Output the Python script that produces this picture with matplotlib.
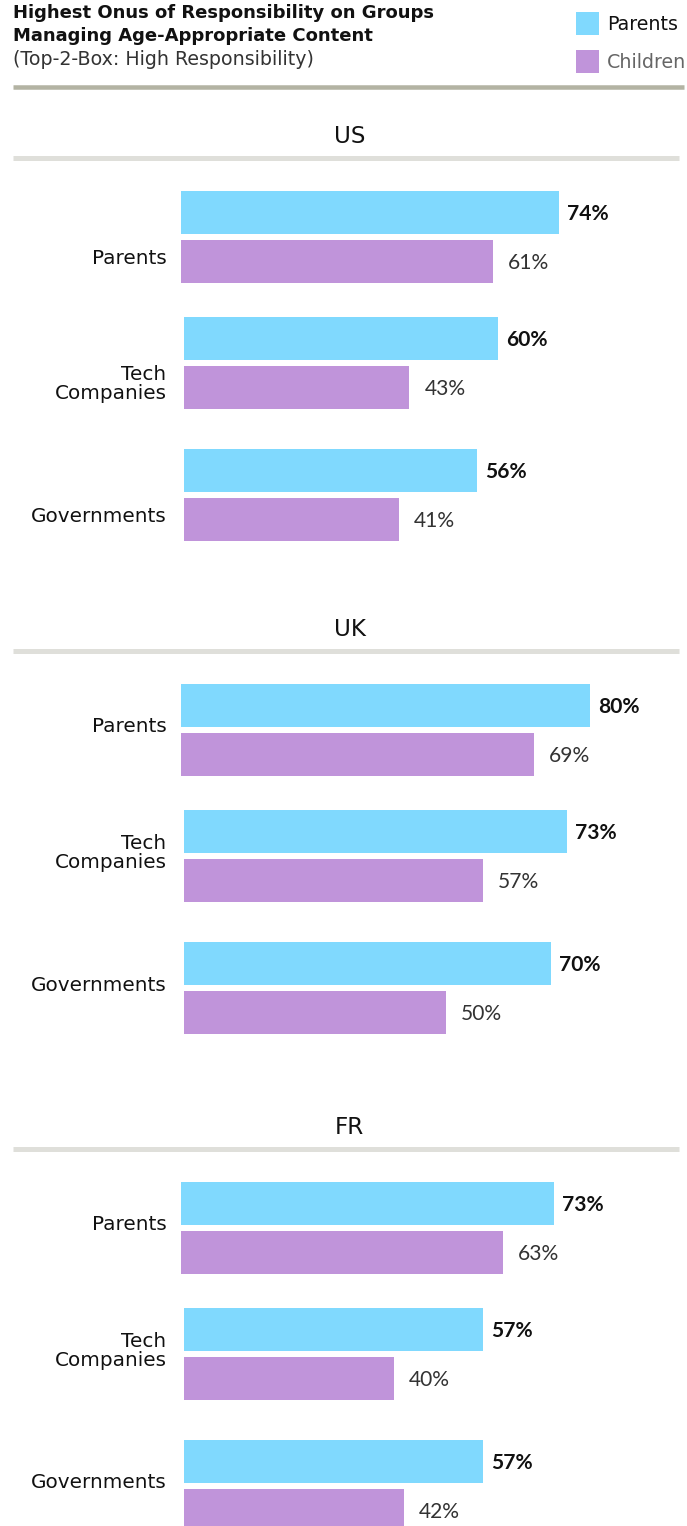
import matplotlib
matplotlib.use("Agg")
import matplotlib.pyplot as plt
from matplotlib.lines import Line2D

# ---------------- data ----------------
title_lines = ["Highest Onus of Responsibility on Groups",
               "Managing Age-Appropriate Content"]
subtitle = "(Top-2-Box: High Responsibility)"
series_names = ["Parents", "Children"]
countries = ["US", "UK", "FR"]
categories = ["Parents", "Tech\nCompanies", "Governments"]

us_parents = [74, 60, 56]
us_children = [61, 43, 41]
uk_parents = [80, 73, 70]
uk_children = [69, 57, 50]
fr_parents = [73, 57, 57]
fr_children = [63, 40, 42]

parents_by_country = [us_parents, uk_parents, fr_parents]
children_by_country = [us_children, uk_children, fr_children]

# ---------------- style / layout ----------------
W, H = 687, 1526
DPI = 72
BLUE = "#80D9FE"
PURPLE = "#C094DA"
TOP_RULE = "#B3B3A3"
PANEL_RULE = "#DFDFDA"

panel_rule_y = [157.5, 650.5, 1148.5]
row_offsets = [33.5, 159.5, 291.5]
label_shift = [24, 0, 0]
row_left = [181, 184, 184]
row_scale = [5.11, 5.24, 5.24]
BAR_PX = 43
PITCH_PX = 49

fig = plt.figure(figsize=(W / DPI, H / DPI), dpi=DPI)
fig.patch.set_facecolor("white")


def fx(px):
    return px / W


def fy(py):
    return 1 - py / H


# title block
fig.text(fx(13), fy(18), title_lines[0], fontsize=18, fontweight="bold",
         color="#111111", va="baseline", ha="left")
fig.text(fx(13), fy(41), title_lines[1], fontsize=18, fontweight="bold",
         color="#111111", va="baseline", ha="left")
fig.text(fx(13), fy(65), subtitle, fontsize=19,
         color="#333333", va="baseline", ha="left")

# legend
for i, (name, col, tcol) in enumerate(zip(series_names, [BLUE, PURPLE],
                                          ["#111111", "#666666"])):
    top = 12 + i * 38
    fig.patches.append(matplotlib.patches.Rectangle(
        (fx(576), fy(top + 23)), 23 / W, 23 / H, transform=fig.transFigure,
        facecolor=col, edgecolor="none"))
    fig.text(fx(607), fy(top + 18.5), name, fontsize=19, color=tcol,
             va="baseline", ha="left")

# top rule
fig.add_artist(Line2D([fx(13), fx(684)], [fy(87), fy(87)], color=TOP_RULE,
                      linewidth=4.5, solid_capstyle="butt"))

for p, country in enumerate(countries):
    ly = panel_rule_y[p]
    fig.text(fx(349.5), fy(ly - 14.5), country, fontsize=23, color="#111111",
             ha="center", va="baseline")
    fig.add_artist(Line2D([fx(13), fx(679)], [fy(ly), fy(ly)],
                          color=PANEL_RULE, linewidth=5,
                          solid_capstyle="butt"))
    pv = parents_by_country[p]
    cv = children_by_country[p]
    for r, cat in enumerate(categories):
        top = ly + row_offsets[r]
        left = row_left[r]
        ax = fig.add_axes([fx(left), fy(top + BAR_PX + PITCH_PX),
                           (W - left) / W, (BAR_PX + PITCH_PX) / H])
        h = BAR_PX / PITCH_PX
        ax.barh([0, 1], [pv[r], cv[r]], height=h, color=[BLUE, PURPLE])
        ax.set_ylim(1 + h / 2, -h / 2)
        ax.set_xlim(0, (W - left) / row_scale[r])
        ax.axis("off")
        ax.annotate(f"{pv[r]}%", xy=(pv[r], 0), xytext=(8, -7.5),
                    textcoords="offset points", fontsize=21,
                    fontweight="bold", family="Lato", color="#111111",
                    va="baseline", ha="left", annotation_clip=False)
        ax.annotate(f"{cv[r]}%", xy=(cv[r], 1), xytext=(15, -7.5),
                    textcoords="offset points", fontsize=21,
                    family="Lato", color="#333333",
                    va="baseline", ha="left", annotation_clip=False)
        # category label
        lines = cat.split("\n")
        mid = top + 48.5 + label_shift[p]
        n = len(lines)
        for k, line in enumerate(lines):
            by = mid + (k - (n - 1) / 2) * 19
            fig.text(fx(166.5), fy(by), line, fontsize=20, color="#111111",
                     ha="right", va="baseline")

fig.savefig("out.png", dpi=DPI, facecolor="white")
